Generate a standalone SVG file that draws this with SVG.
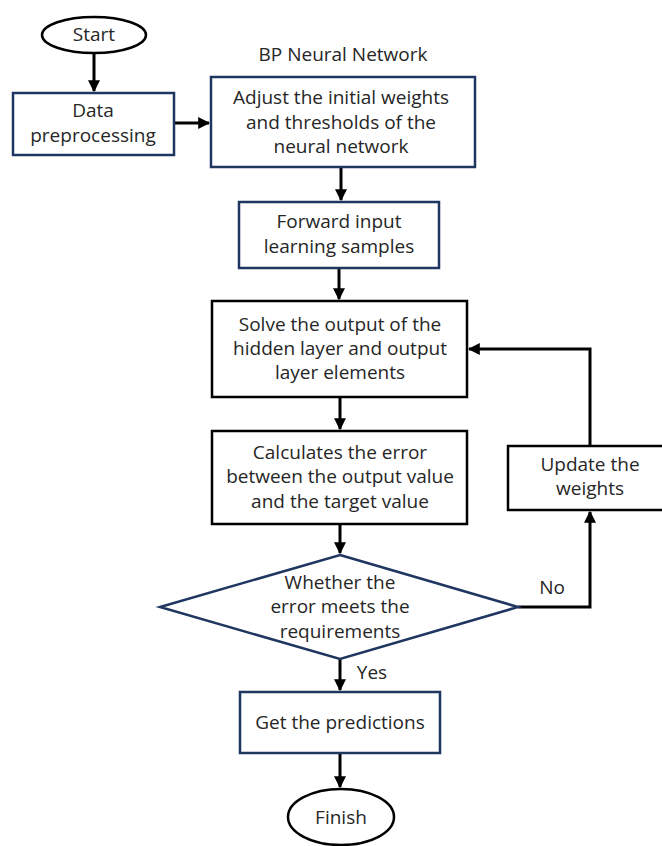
<svg xmlns="http://www.w3.org/2000/svg" width="662" height="846" viewBox="0 0 662 846">
<style>
.t{font-family:"Open Sans","Liberation Sans",sans-serif;font-size:19px;fill:#262626;text-anchor:middle;dominant-baseline:central}
.nv{fill:#fff;stroke:#1f3760;stroke-width:2.5}
.bk{fill:#fff;stroke:#000;stroke-width:2.5}
.c{fill:none;stroke:#000;stroke-width:3;marker-end:url(#ah)}
</style>
<defs>
<marker id="ah" viewBox="0 0 10 10" refX="9" refY="5" markerWidth="4" markerHeight="4" markerUnits="strokeWidth" orient="auto">
<path d="M0,0 L10,5 L0,10 z" fill="#000"/>
</marker>
</defs>
<rect width="662" height="846" fill="#fff"/>
<g id="connectors">
<path class="c" d="M94,53 V91"/>
<path class="c" d="M175,123 H209"/>
<path class="c" d="M341,167 V200"/>
<path class="c" d="M339,268 V299"/>
<path class="c" d="M340,397 V429"/>
<path class="c" d="M340,524 V553"/>
<path class="c" d="M340,659 V690"/>
<path class="c" d="M340,753 V787"/>
<path class="c" d="M518,607 H590 V512"/>
<path class="c" d="M590,446 V349 H469"/>
</g>
<g id="start">
<ellipse cx="94" cy="35" rx="52" ry="18" class="bk"/>
<text class="t" x="94" y="34">Start</text>
</g>
<g id="bp-label">
<text class="t" x="343" y="54">BP Neural Network</text>
</g>
<g id="data">
<rect x="13" y="93" width="161" height="62" class="nv"/>
<text class="t" x="93" y="110">Data</text>
<text class="t" x="93" y="135">preprocessing</text>
</g>
<g id="adjust">
<rect x="211" y="77" width="264" height="90" class="nv"/>
<text class="t" x="341" y="97">Adjust the initial weights</text>
<text class="t" x="341" y="122">and thresholds of the</text>
<text class="t" x="341" y="146">neural network</text>
</g>
<g id="forward">
<rect x="239" y="202" width="200" height="66" class="nv"/>
<text class="t" x="339" y="221">Forward input</text>
<text class="t" x="339" y="246">learning samples</text>
</g>
<g id="solve">
<rect x="212" y="301" width="255" height="96" class="bk"/>
<text class="t" x="340" y="324">Solve the output of the</text>
<text class="t" x="340" y="348">hidden layer and output</text>
<text class="t" x="340" y="372">layer elements</text>
</g>
<g id="calc">
<rect x="212" y="431" width="255" height="93" class="bk"/>
<text class="t" x="340" y="452">Calculates the error</text>
<text class="t" x="340" y="476">between the output value</text>
<text class="t" x="340" y="501">and the target value</text>
</g>
<g id="update">
<rect x="508" y="446" width="160" height="64" class="bk"/>
<text class="t" x="590" y="464">Update the</text>
<text class="t" x="590" y="488">weights</text>
</g>
<g id="decision">
<polygon points="340,555 518,607 340,659 160,607" class="nv"/>
<text class="t" x="340" y="582">Whether the</text>
<text class="t" x="340" y="606">error meets the</text>
<text class="t" x="340" y="631">requirements</text>
</g>
<g id="labels">
<text class="t" x="552" y="587">No</text>
<text class="t" x="372" y="672">Yes</text>
</g>
<g id="predict">
<rect x="240" y="692" width="200" height="61" class="nv"/>
<text class="t" x="340" y="722">Get the predictions</text>
</g>
<g id="finish">
<ellipse cx="341" cy="817" rx="53" ry="28" class="bk"/>
<text class="t" x="341" y="817">Finish</text>
</g>
</svg>
